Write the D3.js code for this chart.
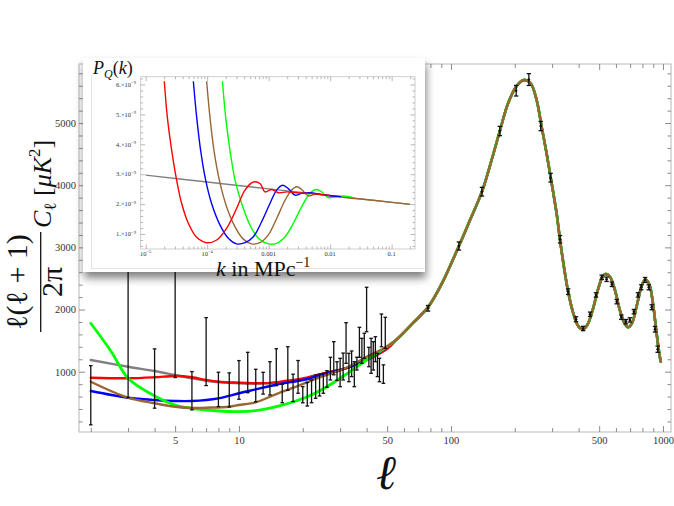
<!DOCTYPE html>
<html>
<head>
<meta charset="utf-8">
<script src="https://cdn.jsdelivr.net/npm/d3@7"></script>
<style>
  body { margin: 0; background: #fff; }
  svg { display: block; font-family: "Liberation Serif", "DejaVu Serif", serif; }
</style>
</head>
<body>
<svg width="674" height="506"></svg>
<script>
// ---- main plot: theory curves at low l (one per model) ----
const greyL  = [2, 3, 4, 5, 6, 7, 8, 10, 12, 15, 20, 25, 30, 40, 50];
const greyV  = [1188, 1080, 1011, 947, 894, 855, 835, 815, 810, 820, 870, 950, 1020, 1190, 1370];
const redL   = [2, 3, 4, 5, 6, 7, 8, 10, 12, 14, 16.5, 20, 25, 33, 40, 50];
const redV   = [903, 894, 910, 931, 910, 867, 839, 823, 815, 820, 850, 890, 974, 1071, 1188, 1370];
const blueL  = [2, 3, 4, 5, 6, 8, 10, 12, 15, 21, 26, 33, 40, 46];
const blueV  = [690, 582, 545, 529, 529, 572, 653, 717, 790, 883, 974, 1071, 1188, 1310];
const greenL = [2, 2.5, 3, 4, 5, 6, 7, 8, 10, 12, 15, 21, 26, 33, 40, 46];
const greenV = [1779, 1322, 894, 609, 464, 411, 384, 368, 357, 373, 437, 598, 759, 990, 1188, 1322];
const brownL = [2, 3, 4, 5, 6, 7, 9, 10, 12, 15, 18.6, 23.3, 30, 33.4, 40, 48.3];
const brownV = [839, 582, 492, 437, 416, 421, 437, 464, 508, 640, 759, 894, 1020, 1092, 1241, 1376];
// acoustic peaks, shared by all models
const tailL = [55.5, 66, 78, 90, 109, 123, 140, 155.5, 170, 186, 204, 221, 237.5, 253.5, 267.7, 282.5, 298.5, 315, 326.6, 341, 357, 377.5, 398, 418, 439.5, 466, 495.5, 519.4, 538, 562, 593.5, 627, 661.7, 686, 714, 753.6, 795.6, 827, 864, 896.8, 929, 963, 977];
const tailV = [1520, 1779, 2040, 2400, 3022, 3440, 3896, 4406, 4872, 5318, 5596, 5693, 5640, 5371, 4941, 4513, 4031, 3548, 3130, 2689, 2287, 1940, 1735, 1682, 1751, 1993, 2342, 2528, 2572, 2528, 2314, 1981, 1767, 1714, 1779, 2073, 2395, 2486, 2395, 2100, 1671, 1269, 1160];

// ---- measured points ----
const lowL  = [2, 3, 4, 5, 6, 7, 8, 9, 10, 11, 12, 13, 14, 15, 16, 17, 18, 19, 20, 21, 22, 23, 24, 25, 26, 27, 28, 29, 30, 31, 32, 33, 34, 35, 36, 37, 38, 39, 40, 41, 42, 43, 44, 45, 46, 47, 48, 49];
const lowLo = [145, 584, 413, 906, 386, 777, 439, 434, 557, 662, 517, 640, 625, 775, 501, 700, 520, 653, 500, 448, 501, 572, 609, 653, 749, 867, 950, 860, 759, 867, 1135, 839, 921, 759, 1027, 1232, 1135, 1215, 1643, 1080, 974, 1027, 1161, 921, 839, 1402, 813, 1376];
const lowHi = [1098, 3300, 1367, 3300, 1002, 1870, 992, 981, 1179, 1312, 1039, 990, 1161, 1370, 800, 1402, 960, 1180, 760, 826, 867, 947, 963, 974, 1016, 1232, 1483, 1160, 1215, 1300, 1788, 1296, 1333, 1161, 1232, 1714, 1537, 1618, 2358, 1392, 1537, 1483, 1563, 1296, 1215, 1928, 1110, 1875];
const highL   = [78, 109, 140, 170, 203, 233, 265, 295, 327, 357, 389, 420, 453, 483, 514, 542, 574, 605, 636, 669, 698, 729, 762, 790, 823, 857, 885, 917, 944];
const highV   = [2020, 3022, 3896, 4872, 5520, 5700, 4952, 4121, 3130, 2288, 1844, 1695, 1924, 2235, 2519, 2487, 2406, 2127, 1876, 1805, 1833, 1966, 2235, 2358, 2476, 2358, 2037, 1683, 1362];
const highErr = [45, 65, 70, 75, 85, 95, 75, 70, 60, 45, 40, 35, 35, 35, 35, 35, 35, 35, 35, 35, 35, 35, 35, 40, 40, 40, 40, 45, 50];

// ---- main ticks ----
const xTicks  = [2, 3, 4, 5, 6, 7, 8, 9, 10, 20, 30, 40, 50, 60, 70, 80, 90, 100, 200, 300, 400, 500, 600, 700, 800, 900, 1000];
const xLabels = [5, 10, 50, 100, 500, 1000];
const yLabels = [1000, 2000, 3000, 4000, 5000];

// ---- inset: primordial spectra P_Q(k), in units of 1e-9 ----
const kGrey  = [1e-5, 1e-4, 1e-3, 1e-2, 0.1, 0.2];
const pGrey  = [2.97, 2.74, 2.51, 2.29, 2.06, 1.99];
const kRed   = [2.01e-5, 2.25e-5, 2.65e-5, 3.19e-5, 3.85e-5, 4.94e-5, 6.75e-5, 9.8e-5, 1.43e-4, 2.07e-4, 3.02e-4, 4.12e-4, 5.64e-4, 7.24e-4, 8.7e-4, 1.12e-3, 1.45e-3, 1.95e-3, 2.88e-3, 5e-3, 1e-2];
const pRed   = [6.11, 4.91, 3.8, 2.8, 2.02, 1.36, 0.89, 0.71, 0.8, 1.19, 1.86, 2.47, 2.74, 2.69, 2.41, 2.49, 2.38, 2.41, 2.38, 2.35, 2.29];
const kBlue  = [5.96e-5, 6.75e-5, 7.83e-5, 9.46e-5, 1.18e-4, 1.62e-4, 2.21e-4, 3.02e-4, 4.12e-4, 5.64e-4, 7.69e-4, 1.05e-3, 1.35e-3, 1.69e-3, 2.09e-3, 2.68e-3, 3.44e-3, 4.68e-3, 6.84e-3, 9.3e-3, 1.5e-2];
const pBlue  = [6.11, 4.91, 3.8, 2.8, 2.02, 1.3, 0.86, 0.67, 0.71, 0.91, 1.41, 2.02, 2.47, 2.63, 2.52, 2.3, 2.36, 2.38, 2.33, 2.29, 2.25];
const kBrown = [9.8e-5, 1.11e-4, 1.29e-4, 1.58e-4, 2.07e-4, 2.84e-4, 3.87e-4, 5.3e-4, 7.24e-4, 9.89e-4, 1.35e-3, 1.85e-3, 2.37e-3, 2.85e-3, 3.44e-3, 4.42e-3, 5.66e-3, 7.76e-3, 1.12e-2, 0.05, 0.2];
const pBrown = [6.11, 4.91, 3.8, 2.8, 1.91, 1.24, 0.83, 0.67, 0.71, 0.97, 1.52, 2.13, 2.47, 2.58, 2.49, 2.27, 2.33, 2.31, 2.26, 2.13, 1.99];
const kGreen = [1.77e-4, 2.0e-4, 2.35e-4, 2.84e-4, 3.64e-4, 4.97e-4, 6.79e-4, 9.89e-4, 1.35e-3, 1.85e-3, 2.52e-3, 3.44e-3, 4.7e-3, 6.03e-3, 7.28e-3, 9.33e-3, 1.2e-2, 1.64e-2, 2.5e-2];
const pGreen = [6.11, 4.91, 3.8, 2.8, 2.02, 1.3, 0.86, 0.67, 0.69, 0.91, 1.36, 1.91, 2.36, 2.49, 2.41, 2.22, 2.24, 2.27, 2.2];
const kLabelVals = [1e-5, 1e-4, 1e-3, 1e-2, 0.1];
const kLabelBase = ['10', '10', '0.001', '0.01', '0.1'];
const kLabelSup  = ['\u22125', '\u22124', '', '', ''];
const pLabelVals = [1, 2, 3, 4, 5, 6];

const serif = '"Liberation Serif", "DejaVu Serif", serif';
const svg = d3.select('svg');

// main scales
const x = d3.scaleLog().domain([1.76, 1091]).range([79, 671]);
const y = d3.scaleLinear().domain([30, 5950]).range([432, 64]);

// frame
svg.append('rect')
  .attr('x', 79).attr('y', 64).attr('width', 592).attr('height', 368)
  .attr('fill', 'none').attr('stroke', '#b8b8b8');

const fmtX = d => xLabels.includes(d) ? d : '';
const xMajor = d => xLabels.includes(d) ? 6 : 4;
const yMinor = d3.range(200, 5801, 200);

function styleAxis(g) {
  g.select('.domain').remove();
  g.attr('font-family', serif).attr('font-size', 10.5);
  g.selectAll('.tick line').attr('stroke', '#8c8c8c');
  g.selectAll('.tick text').attr('fill', '#333');
}

const gBottom = svg.append('g').attr('transform', 'translate(0,432)')
  .call(d3.axisBottom(x).tickValues(xTicks).tickSize(-4).tickPadding(5).tickFormat(fmtX))
  .call(styleAxis);
gBottom.selectAll('.tick line').attr('y2', d => -xMajor(d));

const gTop = svg.append('g').attr('transform', 'translate(0,64)')
  .call(d3.axisTop(x).tickValues(xTicks).tickSize(-4).tickFormat(''))
  .call(styleAxis);
gTop.selectAll('.tick line').attr('y2', d => xMajor(d));

const gLeft = svg.append('g').attr('transform', 'translate(79,0)')
  .call(d3.axisLeft(y).tickValues(yMinor).tickSize(-3.5).tickPadding(3)
    .tickFormat(d => yLabels.includes(d) ? d : ''))
  .call(styleAxis);
gLeft.selectAll('.tick line').attr('x2', d => yLabels.includes(d) ? 6 : 3.5);

const gRight = svg.append('g').attr('transform', 'translate(671,0)')
  .call(d3.axisRight(y).tickValues(yMinor).tickSize(-3.5).tickFormat(''))
  .call(styleAxis);
gRight.selectAll('.tick line').attr('x2', d => yLabels.includes(d) ? -6 : -3.5);

// clip
svg.append('clipPath').attr('id', 'clipMain')
  .append('rect').attr('x', 79).attr('y', 64).attr('width', 592).attr('height', 368);

const line = d3.line().x(d => x(d[0])).y(d => y(d[1])).curve(d3.curveCatmullRom.alpha(0.5));
const pairs = (a, b) => a.map((v, i) => [v, b[i]]);
const withTail = (L, V) => pairs(L, V).concat(pairs(tailL, tailV));

const models = [
  { L: greyL,  V: greyV,  color: '#808080', w: 2.4 },
  { L: redL,   V: redV,   color: '#ff0000', w: 2.4 },
  { L: blueL,  V: blueV,  color: '#0000ff', w: 2.4 },
  { L: greenL, V: greenV, color: '#00ff00', w: 2.8 },
  { L: brownL, V: brownV, color: '#996633', w: 2.4 }
];

const gCurves = svg.append('g').attr('clip-path', 'url(#clipMain)');
gCurves.selectAll('path')
  .data(models)
  .enter()
  .append('path')
  .attr('d', m => line(withTail(m.L, m.V)))
  .attr('fill', 'none')
  .attr('stroke', m => m.color)
  .attr('stroke-width', m => m.w)
  .attr('stroke-linecap', 'round');

// error bars
const gBars = svg.append('g').attr('clip-path', 'url(#clipMain)')
  .attr('stroke', '#111').attr('stroke-width', 1.3);
const lowPts = lowL.map((l, i) => ({ l: l, lo: lowLo[i], hi: lowHi[i] }));
const highPts = highL.map((l, i) => ({ l: l, lo: highV[i] - highErr[i], hi: highV[i] + highErr[i], v: highV[i] }));

function drawBars(pts, cap) {
  const b = gBars.append('g').selectAll('g').data(pts).enter().append('g');
  b.append('line')
    .attr('x1', d => x(d.l)).attr('x2', d => x(d.l))
    .attr('y1', d => y(d.lo)).attr('y2', d => y(d.hi));
  b.append('line')
    .attr('x1', d => x(d.l) - cap).attr('x2', d => x(d.l) + cap)
    .attr('y1', d => y(d.lo)).attr('y2', d => y(d.lo));
  b.append('line')
    .attr('x1', d => x(d.l) - cap).attr('x2', d => x(d.l) + cap)
    .attr('y1', d => y(d.hi)).attr('y2', d => y(d.hi));
  return b;
}
drawBars(lowPts, 1.8);
drawBars(highPts, 2.2)
  .append('circle')
  .attr('cx', d => x(d.l)).attr('cy', d => y(d.v)).attr('r', 1.3)
  .attr('fill', '#111').attr('stroke', 'none');

// ---- inset panel ----
const defs = svg.append('defs');
const f = defs.append('filter').attr('id', 'shadow')
  .attr('x', '-10%').attr('y', '-10%').attr('width', '125%').attr('height', '135%');
f.append('feDropShadow')
  .attr('dx', 1).attr('dy', 6).attr('stdDeviation', 4)
  .attr('flood-color', '#000').attr('flood-opacity', 0.5);

svg.append('rect')
  .attr('x', 83).attr('y', 58).attr('width', 342).attr('height', 214)
  .attr('fill', '#fff').attr('filter', 'url(#shadow)');
svg.append('path')
  .attr('d', 'M91.5,75V268.5H424.5')
  .attr('fill', 'none').attr('stroke', '#e2e2e2');

const ix = d3.scaleLog().domain([8.3e-6, 0.24]).range([140.7, 415]);
const iy = d3.scaleLinear().domain([0.5, 6.26]).range([249, 76.7]);

svg.append('rect')
  .attr('x', 140.7).attr('y', 76.7).attr('width', 274.3).attr('height', 172.3)
  .attr('fill', 'none').attr('stroke', '#c4c4c4').attr('stroke-width', 0.8);

const kTicks = [];
[1e-5, 1e-4, 1e-3, 1e-2, 1e-1].forEach(dec => {
  for (let m = 1; m <= 9; m++) if (dec * m < 0.24) kTicks.push(dec * m);
});
const kMajor = d => kLabelVals.some(v => Math.abs(v - d) / v < 1e-6);
const pTicks = d3.range(0.6, 6.21, 0.2).map(v => +v.toFixed(1));
const pMajor = d => pLabelVals.includes(d);

function styleInset(g) {
  g.select('.domain').remove();
  g.selectAll('.tick line').attr('stroke', '#999').attr('stroke-width', 0.7);
}
svg.append('g').attr('transform', 'translate(0,249)')
  .call(d3.axisBottom(ix).tickValues(kTicks).tickSize(-2.5).tickFormat(''))
  .call(styleInset)
  .selectAll('.tick line').attr('y2', d => kMajor(d) ? -4.5 : -2.5);
svg.append('g').attr('transform', 'translate(0,76.7)')
  .call(d3.axisTop(ix).tickValues(kTicks).tickSize(-2.5).tickFormat(''))
  .call(styleInset)
  .selectAll('.tick line').attr('y2', d => kMajor(d) ? 4.5 : 2.5);
svg.append('g').attr('transform', 'translate(140.7,0)')
  .call(d3.axisLeft(iy).tickValues(pTicks).tickSize(-2.5).tickFormat(''))
  .call(styleInset)
  .selectAll('.tick line').attr('x2', d => pMajor(d) ? 4.5 : 2.5);
svg.append('g').attr('transform', 'translate(415,0)')
  .call(d3.axisRight(iy).tickValues(pTicks).tickSize(-2.5).tickFormat(''))
  .call(styleInset)
  .selectAll('.tick line').attr('x2', d => pMajor(d) ? -4.5 : -2.5);

// inset tick labels
const kl = svg.append('g').attr('font-size', 6.5).attr('fill', '#333').attr('text-anchor', 'middle')
  .selectAll('text').data(kLabelVals).enter().append('text')
  .attr('x', d => ix(d)).attr('y', 256);
kl.append('tspan').text((d, i) => kLabelBase[i]);
kl.append('tspan').attr('dy', -2.6).attr('font-size', 4.6).text((d, i) => kLabelSup[i]);

const pl = svg.append('g').attr('font-size', 6.5).attr('fill', '#333').attr('text-anchor', 'end')
  .selectAll('text').data(pLabelVals).enter().append('text')
  .attr('x', 136).attr('y', d => iy(d) + 2.2);
pl.append('tspan').text(d => d + '.\u00d710');
pl.append('tspan').attr('dy', -2.6).attr('font-size', 4.6).text('\u22129');

// inset curves
svg.append('clipPath').attr('id', 'clipInset')
  .append('rect').attr('x', 140.7).attr('y', 76.7).attr('width', 274.3).attr('height', 172.3);
const iline = d3.line().x(d => ix(d[0])).y(d => iy(d[1])).curve(d3.curveCatmullRom.alpha(0.5));
const spectra = [
  { k: kGrey,  p: pGrey,  color: '#808080' },
  { k: kGreen, p: pGreen, color: '#00ff00' },
  { k: kBrown, p: pBrown, color: '#996633' },
  { k: kBlue,  p: pBlue,  color: '#0000ff' },
  { k: kRed,   p: pRed,   color: '#ff0000' }
];
svg.append('g').attr('clip-path', 'url(#clipInset)')
  .selectAll('path').data(spectra).enter().append('path')
  .attr('d', s => iline(pairs(s.k, s.p)))
  .attr('fill', 'none')
  .attr('stroke', s => s.color)
  .attr('stroke-width', 1.4);

// inset axis titles
const pq = svg.append('text').attr('x', 93).attr('y', 74).attr('font-size', 18).attr('fill', '#111');
pq.append('tspan').attr('font-style', 'italic').text('P');
pq.append('tspan').attr('font-style', 'italic').attr('font-size', 12).attr('dy', 4).text('Q');
pq.append('tspan').attr('dy', -4).text('(');
pq.append('tspan').attr('font-style', 'italic').text('k');
pq.append('tspan').text(')');

const kt = svg.append('text').attr('x', 216).attr('y', 276).attr('font-size', 22).attr('fill', '#111');
kt.append('tspan').attr('font-style', 'italic').text('k');
kt.append('tspan').text(' in MPc');
kt.append('tspan').attr('font-size', 14).attr('dy', -9).text('\u22121');

// ---- main axis titles ----
svg.append('text')
  .attr('x', 386).attr('y', 489)
  .attr('text-anchor', 'middle').attr('font-size', 48).attr('font-style', 'italic').attr('fill', '#111')
  .text('\u2113');

// rotated fraction label, local u runs up the page, v runs right
const yl = svg.append('g').attr('transform', 'translate(40.7,332) rotate(-90)')
  .attr('fill', '#111');
yl.append('text').attr('x', 50).attr('y', -14).attr('text-anchor', 'middle').attr('font-size', 30)
  .text('\u2113(\u2113 + 1)');
yl.append('line').attr('x1', 0).attr('x2', 100).attr('y1', 0).attr('y2', 0)
  .attr('stroke', '#111').attr('stroke-width', 1.3);
yl.append('text').attr('x', 50).attr('y', 21).attr('text-anchor', 'middle').attr('font-size', 30)
  .text('2\u03c0');
const cl = yl.append('text').attr('x', 104).attr('y', 10).attr('font-size', 26);
cl.append('tspan').attr('font-style', 'italic').text('C');
cl.append('tspan').attr('font-size', 17).attr('dy', 5).text('\u2113');
cl.append('tspan').attr('dy', -5).text(' [');
cl.append('tspan').attr('font-style', 'italic').text('\u03bcK');
cl.append('tspan').attr('font-size', 17).attr('dy', -11).text('2');
cl.append('tspan').attr('dy', 11).text(']');
</script>
</body>
</html>
